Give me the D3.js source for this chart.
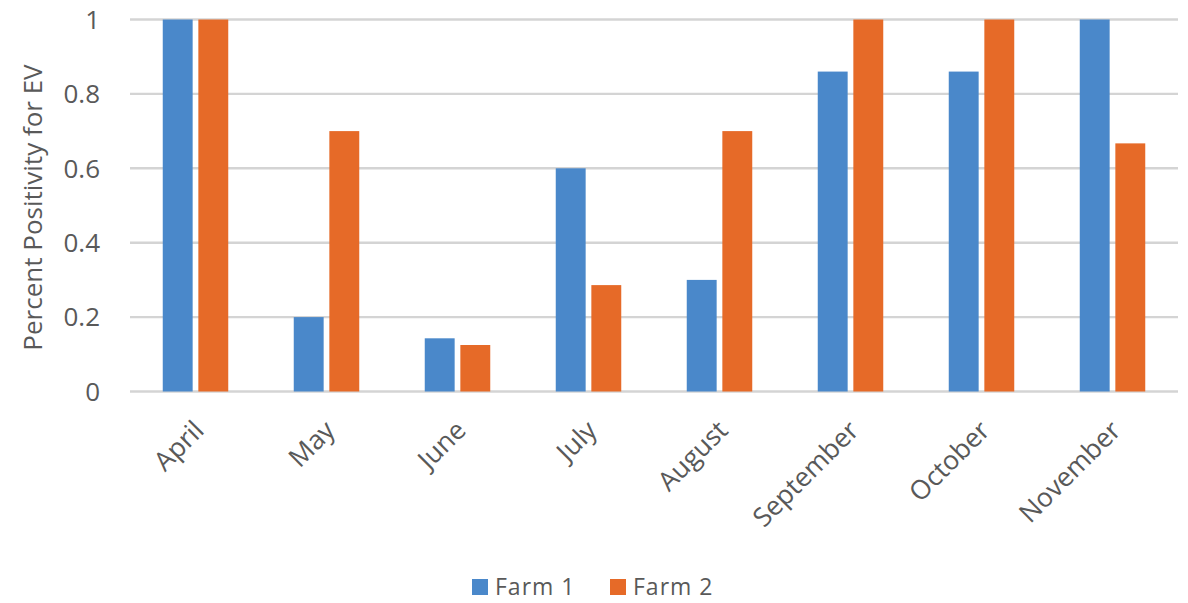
<!doctype html>
<html>
  <head>
    <script src="https://d3js.org/d3.v7.min.js"></script>
    <style>
      body { margin: 0; background: #fff; }
      text { font-family: "Open Sans", "Noto Sans", sans-serif; fill: #595959; }
    </style>
  </head>
  <body>
    <script>
      // data
      var months = ["April", "May", "June", "July", "August", "September", "October", "November"];
      var series = ["Farm 1", "Farm 2"];
      var farm1  = [1, 0.2, 0.143, 0.6, 0.3, 0.86, 0.86, 1];
      var farm2  = [1, 0.7, 0.125, 0.286, 0.7, 1, 1, 0.667];
      var yTicks = [0, 0.2, 0.4, 0.6, 0.8, 1];
      var colors = ["#4a88ca", "#e66a28"];

      var width = 1188, height = 603;
      var plotLeft = 130, plotRight = 1178, plotTop = 19.5, plotBottom = 391.5;

      var svg = d3.select("body").append("svg")
        .attr("width", width)
        .attr("height", height);

      var x = d3.scaleBand().domain(months).range([plotLeft, plotRight]);
      var xs = d3.scaleBand().domain(series)
        .range([x.bandwidth() * 0.25, x.bandwidth() * 0.75])
        .paddingInner(0.16);
      var y = d3.scaleLinear().domain([0, 1]).range([plotBottom, plotTop]);

      // gridlines
      svg.append("g").selectAll("line")
        .data(yTicks)
        .enter().append("line")
          .attr("x1", plotLeft).attr("x2", plotRight)
          .attr("y1", d => y(d)).attr("y2", d => y(d))
          .style("stroke", "#d4d4d4")
          .style("stroke-width", 2.4);

      // y tick labels
      svg.append("g").selectAll("text")
        .data(yTicks)
        .enter().append("text")
          .attr("x", 100)
          .attr("y", d => y(d))
          .attr("dy", "0.36em")
          .attr("text-anchor", "end")
          .style("font-size", "26px")
          .text(d => d3.format("")(d));

      // y title
      svg.append("text")
        .attr("transform", "translate(42," + ((plotTop + plotBottom) / 2 + 2) + ") rotate(-90)")
        .attr("text-anchor", "middle")
        .style("font-size", "26px")
        .text("Percent Positivity for EV");

      // bars
      var rows = months.map((m, i) => ({ month: m, values: [farm1[i], farm2[i]] }));
      var groups = svg.append("g").selectAll("g")
        .data(rows)
        .enter().append("g")
          .attr("transform", d => "translate(" + x(d.month) + ",0)");

      groups.selectAll("rect")
        .data(d => d.values.map((v, k) => ({ key: series[k], value: v, k: k })))
        .enter().append("rect")
          .attr("x", d => xs(d.key))
          .attr("width", xs.bandwidth())
          .attr("y", d => y(d.value))
          .attr("height", d => y(0) - y(d.value))
          .style("fill", d => colors[d.k]);

      // x labels
      svg.append("g").selectAll("text")
        .data(months)
        .enter().append("text")
          .attr("transform", d => "translate(" + (x(d) + x.bandwidth() / 2 + 10) + ",432) rotate(-45)")
          .attr("text-anchor", "end")
          .style("font-size", "26.5px")
          .text(d => d);

      // legend
      var legend = svg.append("g").attr("transform", "translate(472,587)");
      var lx = [0, 138];
      var item = legend.selectAll("g")
        .data(series)
        .enter().append("g")
          .attr("transform", (d, i) => "translate(" + lx[i] + ",0)");
      item.append("rect")
        .attr("x", 0).attr("y", -8)
        .attr("width", 16).attr("height", 16)
        .style("fill", (d, i) => colors[i]);
      item.append("text")
        .attr("x", 23)
        .attr("dy", "0.36em")
        .style("font-size", "23px")
        .style("letter-spacing", "1px")
        .text(d => d);
    </script>
  </body>
</html>
